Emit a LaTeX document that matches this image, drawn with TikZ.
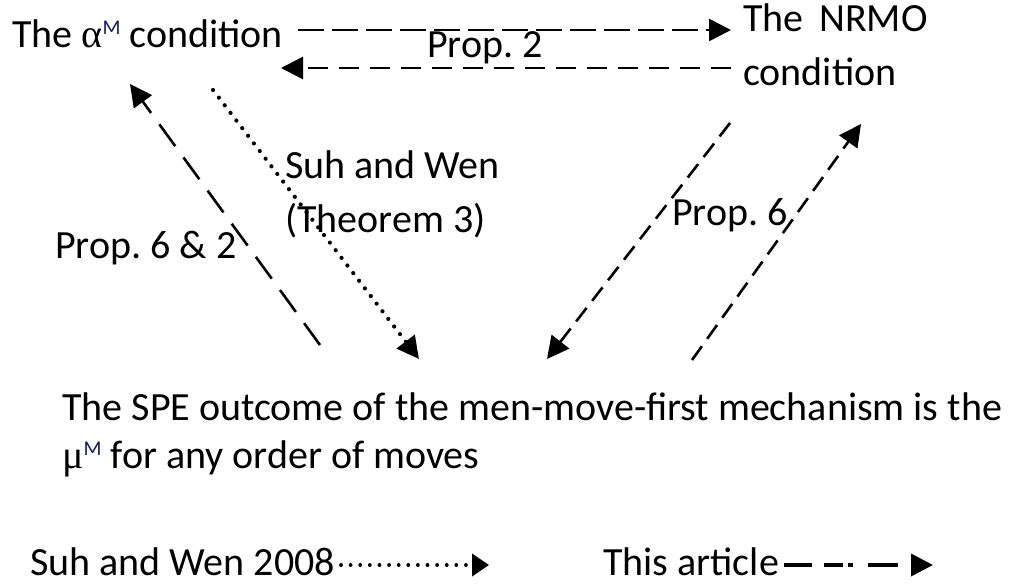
\documentclass[tikz,border=0pt]{standalone}
\usepackage{fontspec}
\setmainfont{Carlito}
\newfontfamily\grk{Liberation Serif}
\usetikzlibrary{arrows.meta}
\definecolor{mblue}{RGB}{15,30,95}
\newcommand{\supM}{\raisebox{13pt}{\fontsize{21}{21}\selectfont\color{mblue}M}}
\frenchspacing
\begin{document}
\begin{tikzpicture}[x=1pt,y=-1pt,
  txt/.style={font=\fontsize{40}{48}\selectfont, inner sep=0pt, anchor=base west},
  bigtip/.style={-{Triangle[length=22pt,width=22pt]}},
  conn/.style={line width=2.6pt, bigtip},
  longdash/.style={conn, dash pattern=on 26pt off 8pt},
  backdash/.style={conn, dash pattern=on 20pt off 11pt},
  diagdash/.style={conn, dash pattern=on 27pt off 14pt},
  shortdash/.style={conn, dash pattern=on 17pt off 9pt},
  dotline/.style={conn, line width=4.2pt, line cap=round, dash pattern=on 0.01pt off 9.6pt},
]
\useasboundingbox (0,0) rectangle (1016,586);

% text nodes
\node[txt] (alpha) at (12,48) {The {\grk α}\supM{} condition};
\node[txt] (nrmo) at (743,32) {The\, NRMO};
\node[txt] (nrmo2) at (743,85) {condition};
\node[txt] (p2) at (427,58) {Prop. 2};
\node[txt] (p62) at (55,258) {Prop. 6 \& 2};
\node[txt] (sw) at (285,178) {Suh and Wen};
\node[txt] (sw2) at (285,232) {(Theorem 3)};
\node[txt] (p6) at (672,225) {Prop. 6};
\node[txt] (spe) at (62,420) {The SPE outcome of the men-move-first mechanism is the};
\node[txt] (spe2) at (62,468) {{\grk μ}\supM{} for any order of moves};
\node[txt] (leg1) at (30,575) {Suh and Wen 2008};
\node[txt] (leg2) at (603,575) {This article};

% connector end points
\coordinate (a1s) at (298,30);  \coordinate (a1e) at (731,30);
\coordinate (a2s) at (731,68);  \coordinate (a2e) at (281,68);
\coordinate (a3s) at (320,345); \coordinate (a3e) at (130,84);
\coordinate (a4s) at (213,90);  \coordinate (a4e) at (419,359);
\coordinate (a5s) at (730,123); \coordinate (a5e) at (547,359);
\coordinate (a6s) at (692,360); \coordinate (a6e) at (861,124);
\coordinate (l1s) at (341,565); \coordinate (l1e) at (489,565);
\coordinate (l2s) at (784,565); \coordinate (l2e) at (933,565);

\draw[longdash] (a1s) -- (a1e);
\draw[backdash] (a2s) -- (a2e);
\draw[diagdash] (a3s) -- (a3e);
\draw[dotline] (a4s) -- (a4e);
\draw[shortdash] (a5s) -- (a5e);
\draw[shortdash] (a6s) -- (a6e);

\draw[line width=3.8pt, line cap=round, dash pattern=on 0.01pt off 9.6pt,
  -{Triangle[length=17pt,width=22pt]}] (l1s) -- (l1e);
\draw[line width=3.6pt, dash pattern=on 28pt off 12pt on 19pt off 5pt on 5pt off 15pt on 30pt off 30pt,
  bigtip] (l2s) -- (l2e);
\end{tikzpicture}
\end{document}
